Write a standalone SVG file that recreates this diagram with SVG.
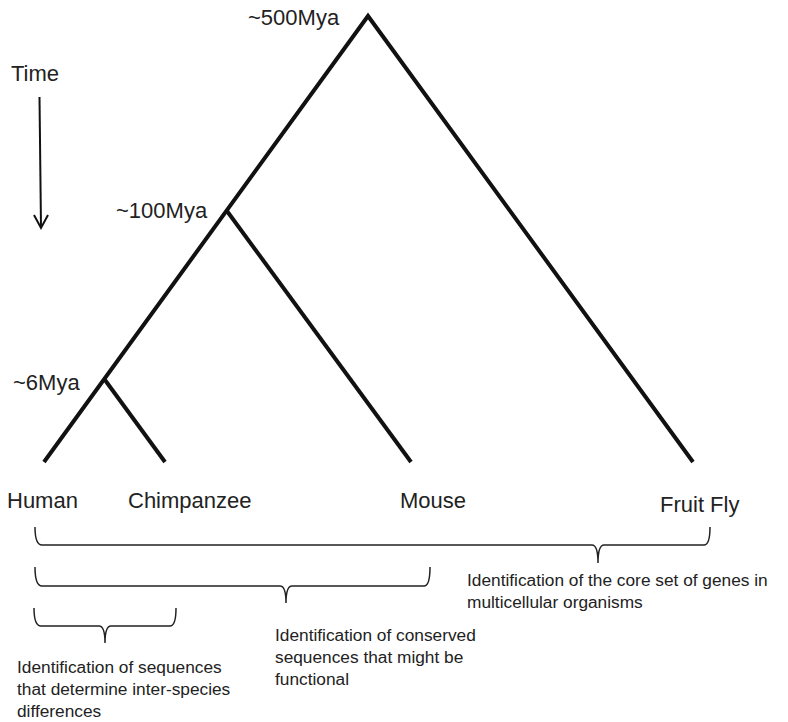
<svg xmlns="http://www.w3.org/2000/svg" width="788" height="722" viewBox="0 0 788 722">
<style>
.br{stroke:#111;stroke-width:4;fill:none;stroke-linecap:butt}
.bk{stroke:#222;stroke-width:1.5;fill:none}
.lb{font-family:"Liberation Sans",Arial,sans-serif;font-size:22px;fill:#222}
.ds{font-family:"Liberation Sans",Arial,sans-serif;font-size:17.3px;fill:#222}
</style>
<rect width="788" height="722" fill="#fff"/>
<g id="connectors">
<path class="br" d="M44,462 L368,16 L693,462"/>
<path class="br" d="M227,211 L411,462"/>
<path class="br" d="M105,380 L165,462"/>
<path d="M39.5,97 L41,228" stroke="#111" stroke-width="2" fill="none"/>
<path d="M34,215 L41,228 L48,215" stroke="#111" stroke-width="2" fill="none"/>
</g>
<g id="time"><text class="lb" x="11" y="81">Time</text></g>
<g id="n500"><text class="lb" x="248" y="25">~500Mya</text></g>
<g id="n100"><text class="lb" x="116" y="218">~100Mya</text></g>
<g id="n6"><text class="lb" x="13" y="390">~6Mya</text></g>
<g id="human"><text class="lb" x="7" y="508">Human</text></g>
<g id="chimp"><text class="lb" x="128" y="508">Chimpanzee</text></g>
<g id="mouse"><text class="lb" x="400" y="508">Mouse</text></g>
<g id="fly"><text class="lb" x="660" y="512">Fruit Fly</text></g>
<g id="bracket-core">
<path class="bk" d="M35,527 Q35,545 42,545 L592,545 Q598,545 598,563 Q598,545 604,545 L704,545 Q710,545 710,527"/>
<text class="ds" x="467" y="586">Identification of the core set of genes in</text>
<text class="ds" x="467" y="608">multicellular organisms</text>
</g>
<g id="bracket-conserved">
<path class="bk" d="M35,567 Q35,586 42,586 L280,586 Q286,586 286,603 Q286,586 292,586 L424,586 Q430,586 430,567"/>
<text class="ds" x="275" y="641">Identification of conserved</text>
<text class="ds" x="275" y="663">sequences that might be</text>
<text class="ds" x="275" y="685">functional</text>
</g>
<g id="bracket-interspecies">
<path class="bk" d="M34,608 Q34,626 41,626 L99,626 Q105,626 105,643 Q105,626 111,626 L170,626 Q176,626 176,608"/>
<text class="ds" x="17" y="673">Identification of sequences</text>
<text class="ds" x="17" y="695">that determine inter-species</text>
<text class="ds" x="17" y="717">differences</text>
</g>
</svg>
